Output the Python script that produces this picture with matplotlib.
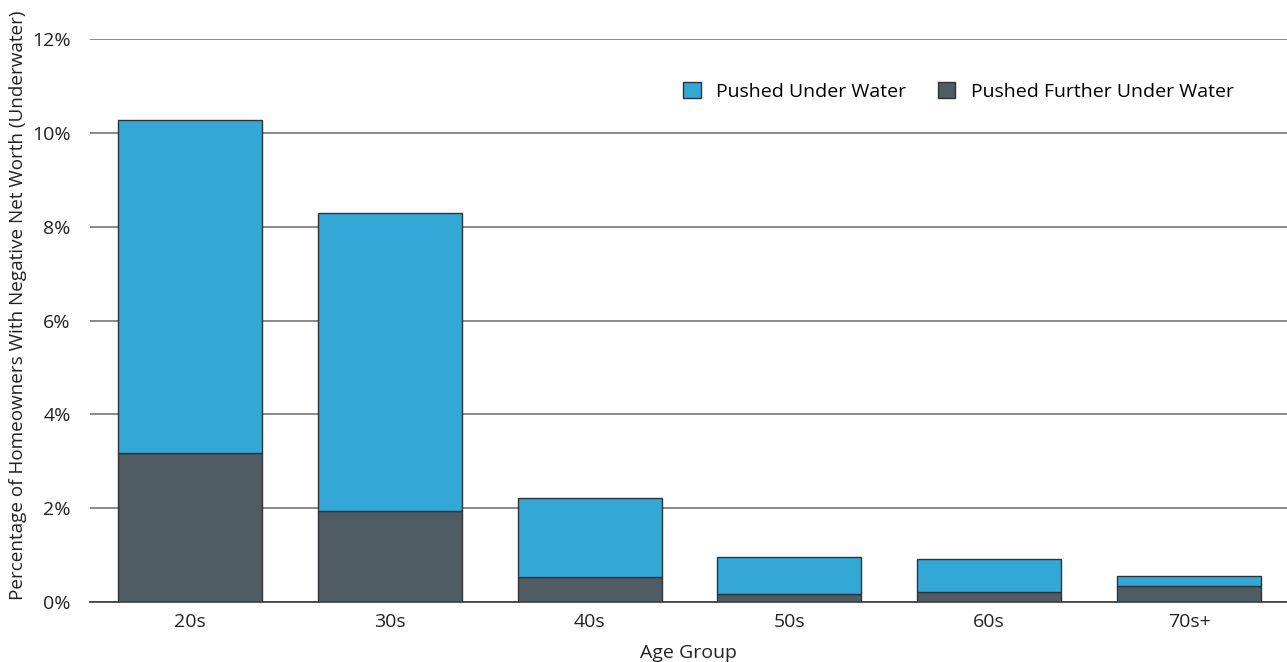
import matplotlib.pyplot as plt
import numpy as np

age_groups = ['20s', '30s', '40s', '50s', '60s', '70s+']
further_under = [3.18, 1.94, 0.53, 0.17, 0.21, 0.34]
total_under = [10.28, 8.29, 2.22, 0.95, 0.92, 0.55]
pushed_under = [t - f for t, f in zip(total_under, further_under)]

plt.rcParams['font.family'] = ['Open Sans', 'DejaVu Sans']

fig = plt.figure(figsize=(12.87, 6.62), dpi=100)
ax = fig.add_axes([90 / 1287, 1 - 602 / 662, 1 - 90 / 1287, (602 - 39) / 662])

x = np.arange(len(age_groups))
ax.bar(x, further_under, width=0.72, color='#505c64', edgecolor='#2e3338',
       linewidth=1, label='Pushed Further Under Water', zorder=3)
ax.bar(x, pushed_under, width=0.72, bottom=further_under, color='#33a8d6',
       edgecolor='#2e3338', linewidth=1, label='Pushed Under Water', zorder=3)

ax.set_xlim(-0.5, 5.49)
ax.set_ylim(0, 12)
ax.set_yticks(range(0, 13, 2))
ax.set_yticklabels([f'{v}%' for v in range(0, 13, 2)], fontsize=14, color='#222222')
ax.set_xticks(x)
ax.set_xticklabels(age_groups, fontsize=14, color='#222222')
ax.tick_params(length=0, pad=8)
ax.tick_params(axis='y', pad=14)
ax.grid(axis='y', color='#808080', linewidth=1.3, zorder=0)

for side in ['top', 'right', 'left']:
    ax.spines[side].set_visible(False)
ax.spines['bottom'].set_color('#444444')
ax.spines['bottom'].set_linewidth(1.3)
ax.spines['bottom'].set_zorder(4)

ax.set_xlabel('Age Group', fontsize=14, color='#222222', labelpad=9)
ax.set_ylabel('Percentage of Homeowners With Negative Net Worth (Underwater)',
              fontsize=13.6, color='#222222')
ax.yaxis.set_label_coords(-0.053, 0.527)

handles, labels = ax.get_legend_handles_labels()
ax.legend(handles[::-1], labels[::-1], ncol=2, frameon=False, fontsize=14,
          loc='upper right', bbox_to_anchor=(0.97, 0.955),
          handlelength=0.9, handleheight=0.9, columnspacing=1.6, handletextpad=0.8)

plt.savefig('out.png', dpi=100)
